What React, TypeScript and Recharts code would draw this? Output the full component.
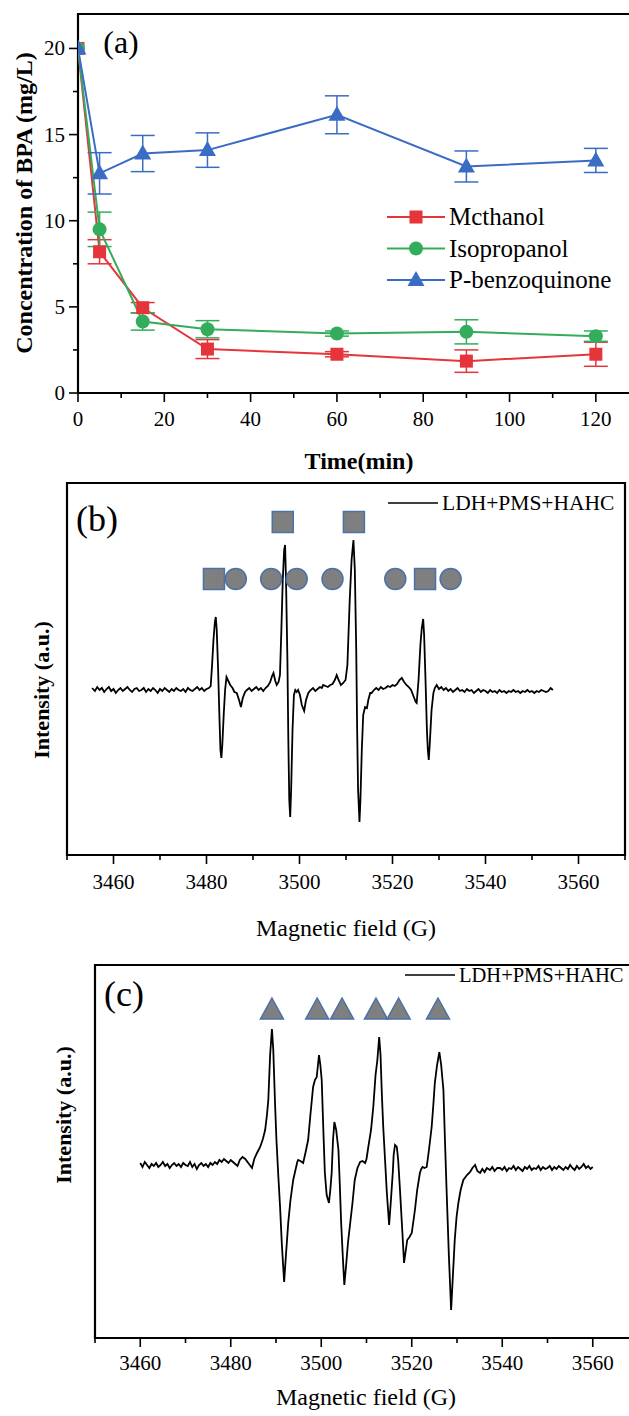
import React from 'react'
import { ComposedChart, Line, XAxis, YAxis, ErrorBar, ReferenceArea, Scatter } from 'recharts'

const serif = '"Liberation Serif", "Times New Roman", Times, serif'
const txt = { fontFamily: serif }

// ---- panel (a): BPA concentration vs time ----
const times = [0, 5, 15, 30, 60, 90, 120]
const methanol = [20, 8.2, 4.95, 2.55, 2.25, 1.85, 2.25]
const methanolErr = [0, 0.7, 0.3, 0.55, 0.15, 0.65, 0.7]
const isopropanol = [20, 9.5, 4.15, 3.7, 3.45, 3.55, 3.3]
const isopropanolErr = [0, 1.0, 0.5, 0.5, 0.15, 0.7, 0.3]
const benzoquinone = [20, 12.75, 13.9, 14.1, 16.15, 13.15, 13.5]
const benzoquinoneErr = [0, 1.2, 1.05, 1.0, 1.1, 0.9, 0.7]
const seriesNames = ['Mcthanol', 'Isopropanol', 'P-benzoquinone']
const timeTicks = [0, 10, 20, 30, 40, 50, 60, 70, 80, 90, 100, 110, 120]
const concTicks = [0, 2.5, 5, 7.5, 10, 12.5, 15, 17.5, 20]

// ---- panel (b): EPR, DMPO-OH (squares) + DMPO-SO4 (circles) ----
const traceB: [number, number][] = [
  [3455.4, 2], [3456.0, -1], [3456.5, 3], [3457.0, 0], [3457.5, 2], [3458.0, -2], [3458.5, 1], [3459.0, 3],
  [3459.5, -1], [3460.0, 1], [3460.5, -3], [3461.0, 0], [3461.5, 2], [3462.0, -1], [3462.5, 1], [3463.0, 3],
  [3463.5, 0], [3464.0, -2], [3464.5, 1], [3465.0, 2], [3465.5, -1], [3466.0, 0], [3466.5, 2], [3467.0, -2],
  [3467.5, 1], [3468.0, -1], [3468.5, 2], [3469.0, 0], [3469.5, -3], [3470.0, 1], [3470.5, -1], [3471.0, 2],
  [3471.5, 0], [3472.0, -2], [3472.5, 1], [3473.0, -1], [3473.5, 2], [3474.0, 0], [3474.5, -1], [3475.0, 1],
  [3475.5, -2], [3476.0, 2], [3476.5, 0], [3477.0, -1], [3477.5, 1], [3478.0, 3], [3478.5, 0], [3479.0, 2],
  [3479.5, -1], [3480.0, 1], [3480.5, 2], [3480.9, 4], [3481.2, 25], [3481.5, 50], [3481.8, 68], [3482.0, 73],
  [3482.2, 60], [3482.5, 20], [3482.8, -30], [3483.0, -60], [3483.2, -68], [3483.4, -55], [3483.7, -25],
  [3484.0, 0], [3484.3, 13], [3484.6, 10], [3485.1, 5], [3485.6, 2], [3486.0, -2], [3486.5, -3], [3487.0, -10],
  [3487.4, -17], [3487.8, -8], [3488.3, -2], [3488.7, 0], [3489.2, 2], [3489.7, -1], [3490.2, 1], [3490.7, 3],
  [3491.2, 0], [3491.7, 2], [3492.2, -1], [3492.7, 2], [3493.2, 4], [3493.7, 8], [3494.1, 14], [3494.4, 17],
  [3494.8, 9], [3495.1, 5], [3495.5, 8], [3495.8, 15], [3496.1, 60], [3496.4, 110], [3496.7, 140], [3496.9, 145],
  [3497.1, 110], [3497.4, 30], [3497.6, -50], [3497.8, -110], [3498.0, -127], [3498.2, -100], [3498.5, -40],
  [3498.8, -5], [3499.1, 0], [3499.4, -2], [3499.7, 0], [3500.1, -5], [3500.5, -15], [3501.0, -21], [3501.4, -10],
  [3501.9, -3], [3502.4, 0], [3502.9, 2], [3503.4, -1], [3503.9, 1], [3504.4, 3], [3504.8, 2], [3505.1, 5],
  [3505.6, 4], [3506.1, 3], [3506.6, 5], [3507.1, 6], [3507.6, 10], [3508.0, 15], [3508.4, 10], [3508.9, 5],
  [3509.4, 7], [3509.9, 10], [3510.3, 25], [3510.8, 90], [3511.2, 130], [3511.6, 150], [3511.9, 120],
  [3512.2, 40], [3512.4, -40], [3512.6, -100], [3512.9, -132], [3513.1, -110], [3513.4, -60], [3513.7, -25],
  [3514.1, -17], [3514.5, -18], [3514.8, -10], [3515.2, -3], [3515.5, -3], [3516.0, 0], [3516.5, 2], [3517.0, 0],
  [3517.5, 3], [3518.0, 1], [3518.5, 2], [3519.0, 4], [3519.5, 3], [3520.0, 5], [3520.5, 4], [3521.0, 6],
  [3521.5, 10], [3522.0, 12], [3522.5, 8], [3523.0, 5], [3523.5, 3], [3524.0, 0], [3524.5, -6], [3525.0, -12],
  [3525.2, -13], [3525.6, 10], [3526.0, 45], [3526.3, 62], [3526.6, 71], [3526.8, 55], [3527.1, 10],
  [3527.4, -40], [3527.6, -60], [3527.8, -70], [3528.0, -55], [3528.4, -20], [3528.8, -3], [3529.1, 2],
  [3529.5, 5], [3530.0, 1], [3530.5, 3], [3531.0, 0], [3531.5, 2], [3532.0, -1], [3532.5, 1], [3533.0, -2],
  [3533.5, 0], [3534.0, 2], [3534.5, -1], [3535.0, 0], [3535.5, -2], [3536.0, 1], [3536.5, -1], [3537.0, 0],
  [3537.5, -3], [3538.0, -1], [3538.5, 1], [3539.0, -2], [3539.5, 0], [3540.0, -1], [3540.5, -3], [3541.0, 0],
  [3541.5, -2], [3542.0, -1], [3542.5, -3], [3543.0, 0], [3543.5, -2], [3544.0, -1], [3544.5, -3], [3545.0, -1],
  [3545.5, -2], [3546.0, 0], [3546.5, -2], [3547.0, -1], [3547.5, -3], [3548.0, -1], [3548.5, -2], [3549.0, 0],
  [3549.5, -2], [3550.0, -1], [3550.5, -3], [3551.0, -1], [3551.5, -2], [3552.0, 0], [3552.5, -1], [3553.0, -2],
  [3553.5, -1], [3554.0, 2], [3554.5, 0],
]
// [field, level, kind]  s = square (DMPO-OH), c = circle (DMPO-SO4)
const markersB: [number, number, string][] = [
  [3496.4, 168, 's'], [3511.7, 168, 's'],
  [3481.6, 111, 's'], [3486.3, 111, 'c'], [3493.9, 111, 'c'], [3499.4, 111, 'c'],
  [3507.1, 111, 'c'], [3520.6, 111, 'c'], [3527.0, 111, 's'], [3532.5, 111, 'c'],
]

// ---- panel (c): EPR, DMPO-O2- (triangles) ----
const traceC: [number, number][] = [
  [3460.0, 2], [3460.5, -2], [3461.0, 3], [3461.5, 0], [3462.0, -3], [3462.5, 1], [3463.0, -1], [3463.5, 2],
  [3464.0, -2], [3464.5, 0], [3465.0, 3], [3465.5, -1], [3466.0, 1], [3466.5, -3], [3467.0, 0], [3467.5, 2],
  [3468.0, -1], [3468.5, 1], [3469.0, -2], [3469.5, 2], [3470.0, 0], [3470.5, -1], [3471.0, 3], [3471.5, -2],
  [3472.0, 1], [3472.5, -4], [3473.0, 0], [3473.5, 2], [3474.0, -1], [3474.5, 1], [3475.0, -2], [3475.5, 2],
  [3476.0, 0], [3476.5, 3], [3477.0, 1], [3477.5, 5], [3478.0, 3], [3478.5, 6], [3479.0, 4], [3479.5, 2],
  [3480.0, 5], [3480.5, 3], [3481.0, 1], [3481.5, -1], [3482.0, 5], [3482.6, 8], [3483.2, 6], [3484.2, 0],
  [3484.7, -3], [3485.2, 6], [3485.8, 12], [3486.5, 18], [3487.1, 26], [3487.6, 35], [3488.0, 50], [3488.3, 65],
  [3488.7, 110], [3489.1, 136], [3489.4, 115], [3489.8, 60], [3490.1, 25], [3490.5, -10], [3490.9, -42],
  [3491.3, -80], [3491.8, -117], [3492.2, -90], [3492.7, -58], [3493.2, -35], [3493.8, -15], [3494.3, -5],
  [3494.7, 3], [3494.9, 5], [3495.4, 4], [3496.0, 2], [3496.5, 12], [3497.1, 25], [3497.6, 50], [3498.2, 78],
  [3498.6, 85], [3499.0, 88], [3499.5, 110], [3499.8, 100], [3500.1, 85], [3500.5, 30], [3500.8, -8],
  [3501.2, -30], [3501.7, -38], [3502.0, -25], [3502.3, -8], [3502.6, 25], [3502.9, 43], [3503.3, 35],
  [3503.8, 15], [3504.1, -20], [3504.4, -58], [3504.8, -95], [3505.1, -120], [3505.5, -100], [3505.9, -78],
  [3506.3, -62], [3506.9, -38], [3507.4, -15], [3508.0, -3], [3508.6, 3], [3509.1, 4], [3509.7, 2], [3510.0, 6],
  [3510.4, 18], [3511.0, 35], [3511.5, 58], [3512.0, 90], [3512.4, 105], [3512.8, 128], [3513.1, 110],
  [3513.4, 70], [3513.7, 38], [3514.1, 5], [3514.5, -28], [3515.0, -60], [3515.4, -35], [3515.8, -8],
  [3516.0, 10], [3516.3, 20], [3516.7, 18], [3517.0, 5], [3517.4, -25], [3517.9, -65], [3518.3, -98],
  [3518.6, -88], [3519.0, -75], [3519.5, -72], [3520.0, -68], [3520.4, -55], [3520.7, -45], [3521.2, -25],
  [3521.8, -8], [3522.1, -4], [3522.4, -2], [3522.8, -3], [3523.3, -2], [3523.8, 15], [3524.4, 38],
  [3524.8, 62], [3525.1, 82], [3525.6, 100], [3526.1, 113], [3526.5, 100], [3527.0, 75], [3527.3, 30],
  [3527.7, -25], [3528.2, -90], [3528.7, -145], [3529.1, -110], [3529.5, -75], [3529.9, -52], [3530.3, -38],
  [3530.8, -25], [3531.4, -15], [3532.2, -10], [3532.9, -7], [3533.4, -3], [3534.0, 0], [3534.5, -6],
  [3535.1, -8], [3535.6, -4], [3536.1, -7], [3536.6, -3], [3537.3, -5], [3537.8, -2], [3538.3, -6],
  [3538.9, -3], [3539.5, -3], [3540.0, -5], [3540.5, -2], [3541.0, -6], [3541.5, -3], [3542.0, -4],
  [3542.5, -1], [3543.0, -5], [3543.5, -2], [3544.0, -4], [3544.5, -6], [3545.0, -2], [3545.5, -4],
  [3546.0, -1], [3546.5, -5], [3547.0, -3], [3547.5, -4], [3548.0, -1], [3548.5, -5], [3549.0, -2],
  [3549.5, -4], [3550.0, -3], [3550.5, -1], [3551.0, -5], [3551.5, -2], [3552.0, -4], [3552.5, -1],
  [3553.0, -3], [3553.5, -5], [3554.0, -2], [3554.5, -4], [3555.0, 0], [3555.5, -3], [3556.0, -5],
  [3556.5, -1], [3557.0, -4], [3557.5, -2], [3558.0, 1], [3558.5, -3], [3559.0, -1], [3559.5, -4], [3560.0, -2],
]
const markersC: [number, number][] = [
  [3489.1, 156], [3499.1, 156], [3504.6, 156], [3512.1, 156], [3517.1, 156], [3525.8, 156],
]
const fieldTicks = [3450, 3460, 3470, 3480, 3490, 3500, 3510, 3520, 3530, 3540, 3550, 3560, 3570]
const legendEPR = 'LDH+PMS+HAHC'

const colors = ['#e5353b', '#33ad5b', '#3b6cc4']
const markerFill = '#7f7f7f'
const markerStroke = '#4a72a8'

const rowsA = times.map((t, i) => ({
  t,
  m: methanol[i], mErr: methanolErr[i],
  iso: isopropanol[i], isoErr: isopropanolErr[i],
  pbq: benzoquinone[i], pbqErr: benzoquinoneErr[i],
}))
const rowsB = traceB.map(([field, v]) => ({ field, v }))
const rowsC = traceC.map(([field, v]) => ({ field, v }))
const markRowsB = markersB.map(([field, level, kind]) => ({ field, level, kind }))
const markRowsC = markersC.map(([field, level]) => ({ field, level }))

function shapeA(kind: number, cx: number, cy: number, color: string, key?: any) {
  if (kind === 0) return <rect key={key} x={cx - 6.5} y={cy - 6.5} width={13} height={13} fill={color} />
  if (kind === 1) return <circle key={key} cx={cx} cy={cy} r={7} fill={color} />
  return <polygon key={key} points={`${cx},${cy - 9} ${cx + 8.5},${cy + 6} ${cx - 8.5},${cy + 6}`} fill={color} />
}

function xTick(axisY: number, every: number, gap: number) {
  return (props: any) => {
    const { x, payload } = props
    const major = payload.value % every === 0
    return (
      <g>
        <line x1={x} y1={axisY} x2={x} y2={axisY + (major ? 9 : 5)} stroke="#000" strokeWidth={1.6} />
        {major && (
          <text x={x} y={axisY + gap} textAnchor="middle" style={txt} fontSize={21} fill="#000">
            {payload.value}
          </text>
        )}
      </g>
    )
  }
}

function yTickA(props: any) {
  const { y, payload } = props
  const major = payload.value % 5 === 0
  return (
    <g>
      <line x1={78 - (major ? 9 : 5)} y1={y} x2={78} y2={y} stroke="#000" strokeWidth={1.6} />
      {major && (
        <text x={65} y={y + 7} textAnchor="end" style={txt} fontSize={21} fill="#000">
          {payload.value}
        </text>
      )}
    </g>
  )
}

const label = (text: string, cx: number, cy: number, size: number, bold = false, rotate = false) => (
  <div
    style={{
      position: 'absolute', left: cx, top: cy, whiteSpace: 'nowrap', lineHeight: 1,
      fontFamily: serif, fontSize: size, fontWeight: bold ? 'bold' : 'normal', color: '#000',
      transform: `translate(-50%, -50%)${rotate ? ' rotate(-90deg)' : ''}`,
    }}
  >
    {text}
  </div>
)

function EPRLegend({ left, top, size }: { left: number; top: number; size: number }) {
  return (
    <svg style={{ position: 'absolute', left, top }} width={629 - left} height={30}>
      <line x1={6} y1={15} x2={56} y2={15} stroke="#000" strokeWidth={1.5} />
      <text x={60} y={22} style={txt} fontSize={size} fill="#000">{legendEPR}</text>
    </svg>
  )
}

export default function App() {
  return (
    <div style={{ position: 'absolute', left: 0, top: 0, width: 629, height: 1416, overflow: 'hidden', background: '#fff' }}>
      {/* (a) */}
      <div style={{ position: 'absolute', left: 0, top: 0 }}>
        <ComposedChart width={640} height={480} data={rowsA} margin={{ top: 14, right: 1, bottom: 0, left: 0 }}>
          <XAxis dataKey="t" type="number" domain={[0, 130]} ticks={timeTicks} interval={0} height={87}
            axisLine={false} tickLine={false} tick={xTick(393, 20, 33)} allowDataOverflow />
          <YAxis type="number" domain={[0, 22]} ticks={concTicks} interval={0} width={78}
            axisLine={false} tickLine={false} tick={yTickA} allowDataOverflow />
          <ReferenceArea x1={0} x2={130} y1={0} y2={22} fill="none" stroke="#000" strokeWidth={2.2} ifOverflow="visible" />
          <Line dataKey="m" stroke={colors[0]} strokeWidth={2} isAnimationActive={false} activeDot={false}
            dot={(p: any) => shapeA(0, p.cx, p.cy, colors[0], `m${p.index}`)}>
            <ErrorBar dataKey="mErr" width={12} stroke={colors[0]} strokeWidth={1.5} direction="y" />
          </Line>
          <Line dataKey="iso" stroke={colors[1]} strokeWidth={2} isAnimationActive={false} activeDot={false}
            dot={(p: any) => shapeA(1, p.cx, p.cy, colors[1], `i${p.index}`)}>
            <ErrorBar dataKey="isoErr" width={12} stroke={colors[1]} strokeWidth={1.5} direction="y" />
          </Line>
          <Line dataKey="pbq" stroke={colors[2]} strokeWidth={2} isAnimationActive={false} activeDot={false}
            dot={(p: any) => shapeA(2, p.cx, p.cy, colors[2], `p${p.index}`)}>
            <ErrorBar dataKey="pbqErr" width={12} stroke={colors[2]} strokeWidth={1.5} direction="y" />
          </Line>
        </ComposedChart>
        <svg style={{ position: 'absolute', left: 385, top: 200 }} width={244} height={100}>
          {seriesNames.map((name, i) => {
            const y = 17 + i * 31.5
            return (
              <g key={name}>
                <line x1={2} y1={y} x2={60} y2={y} stroke={colors[i]} strokeWidth={2} />
                {shapeA(i, 31, y, colors[i])}
                <text x={64} y={y + 8} style={txt} fontSize={25} fill="#000">{name}</text>
              </g>
            )
          })}
        </svg>
        {label('(a)', 121, 42, 32)}
        {label('Concentration of BPA (mg/L)', 24, 203, 24, true, true)}
        {label('Time(min)', 359, 461, 24, true)}
      </div>

      {/* (b) */}
      <div style={{ position: 'absolute', left: 0, top: 470 }}>
        <ComposedChart width={640} height={480} margin={{ top: 13, right: 15, bottom: 0, left: 0 }}>
          <XAxis dataKey="field" type="number" domain={[3450, 3570]} ticks={fieldTicks} interval={0} height={95}
            axisLine={false} tickLine={false} tick={xTick(385, 20, 34)} allowDataOverflow />
          <YAxis type="number" domain={[-165, 207]} width={67} axisLine={false} tickLine={false} tick={false} allowDataOverflow />
          <ReferenceArea x1={3450} x2={3570} y1={-165} y2={207} fill="none" stroke="#000" strokeWidth={2.2} ifOverflow="visible" />
          <Line data={rowsB} dataKey="v" type="linear" stroke="#000" strokeWidth={1.8} dot={false} activeDot={false} isAnimationActive={false} />
          <Scatter data={markRowsB} dataKey="level" isAnimationActive={false}
            shape={(p: any) => p.payload.kind === 's'
              ? <rect x={p.cx - 10.5} y={p.cy - 10.5} width={21} height={21} fill={markerFill} stroke={markerStroke} strokeWidth={1.5} />
              : <circle cx={p.cx} cy={p.cy} r={10.5} fill={markerFill} stroke={markerStroke} strokeWidth={1.5} />} />
        </ComposedChart>
        <EPRLegend left={382} top={18} size={21.5} />
        {label('(b)', 97, 49, 36)}
        {label('Intensity (a.u.)', 42, 220, 22, true, true)}
        {label('Magnetic field (G)', 346, 458, 24)}
      </div>

      {/* (c) */}
      <div style={{ position: 'absolute', left: 0, top: 950 }}>
        <ComposedChart width={640} height={466} margin={{ top: 15, right: 2, bottom: 0, left: 0 }}>
          <XAxis dataKey="field" type="number" domain={[3450, 3570]} ticks={fieldTicks} interval={0} height={78}
            axisLine={false} tickLine={false} tick={xTick(388, 20, 32)} allowDataOverflow />
          <YAxis type="number" domain={[-173, 200]} width={95} axisLine={false} tickLine={false} tick={false} allowDataOverflow />
          <ReferenceArea x1={3450} x2={3570} y1={-173} y2={200} fill="none" stroke="#000" strokeWidth={2.2} ifOverflow="visible" />
          <Line data={rowsC} dataKey="v" type="linear" stroke="#000" strokeWidth={1.8} dot={false} activeDot={false} isAnimationActive={false} />
          <Scatter data={markRowsC} dataKey="level" isAnimationActive={false}
            shape={(p: any) => (
              <polygon points={`${p.cx},${p.cy - 11} ${p.cx + 11.5},${p.cy + 10} ${p.cx - 11.5},${p.cy + 10}`}
                fill={markerFill} stroke={markerStroke} strokeWidth={1.5} />
            )} />
        </ComposedChart>
        <EPRLegend left={399} top={10} size={20.5} />
        {label('(c)', 124, 44, 36)}
        {label('Intensity (a.u.)', 64, 165, 22, true, true)}
        {label('Magnetic field (G)', 366, 447, 24)}
      </div>
    </div>
  )
}
